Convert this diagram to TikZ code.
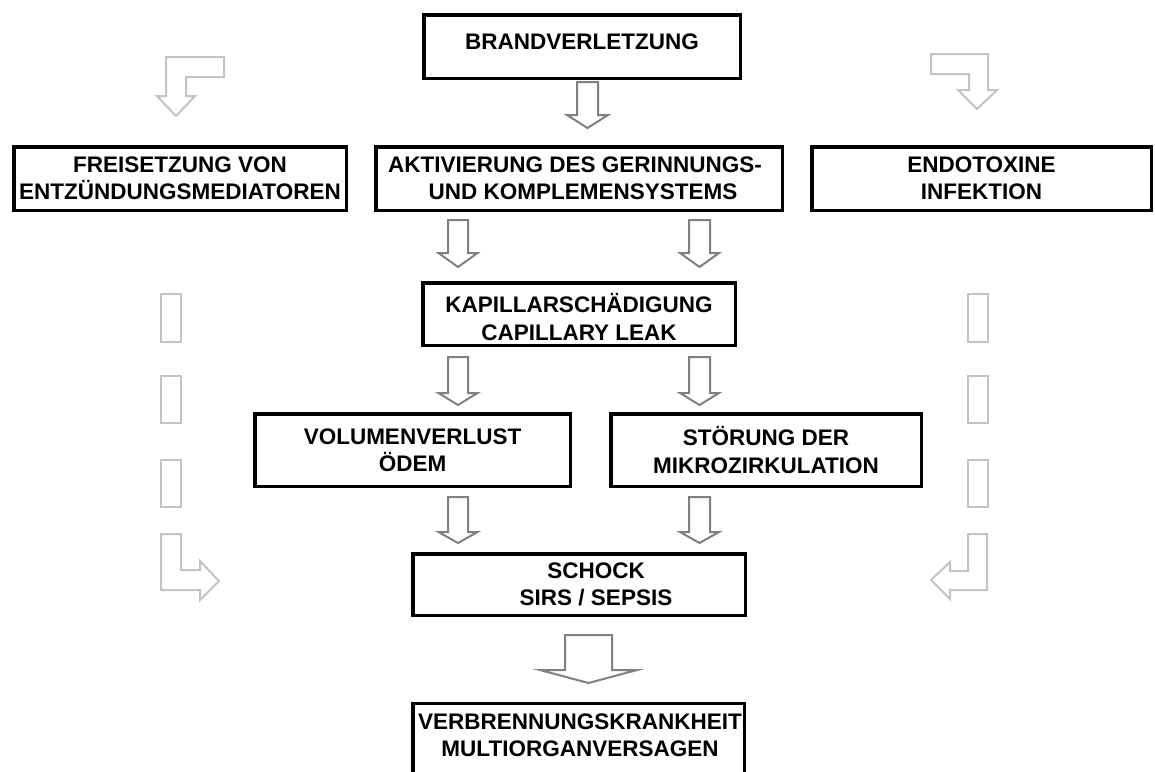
\documentclass[tikz,border=0pt]{standalone}
\usepackage{fontspec}
\setmainfont{Liberation Sans}
\definecolor{arrowgray}{RGB}{128,128,128}
\definecolor{sidegray}{RGB}{196,196,196}
\newcommand\blkarrow[7]{% style, cx, shaft half, head half, top, base, tip
  \draw[#1] ({#2-#3},#5) -- ({#2+#3},#5) -- ({#2+#3},#6) -- ({#2+#4},#6) -- (#2,#7)
     -- ({#2-#4},#6) -- ({#2-#3},#6) -- cycle;}
\tikzset{
  box/.style={draw=black, line width=3.5pt, rectangle, inner sep=0pt, align=center,
    font=\bfseries\fontsize{22.5}{27.5}\selectfont},
  txt/.style={inner sep=0pt, align=center, font=\bfseries\fontsize{22.5}{27.5}\selectfont},
  mainarrow/.style={draw=arrowgray, line width=2pt, fill=white, line join=miter},
  sidearrow/.style={draw=sidegray, line width=2pt, fill=white, line join=miter}
}
\begin{document}
\begin{tikzpicture}[x=1pt,y=-1pt]
\useasboundingbox (0,0) rectangle (1155,771);
\fill[white] (0,0) rectangle (1155,771);
\clip (0,0) rectangle (1155,771);

% boxes
\node[box, minimum width=316.5pt, minimum height=63.5pt] (brand) at (582,46.5)
  {\raisebox{5pt}[\height][\depth]{BRANDVERLETZUNG}};
\node[box, minimum width=332.5pt, minimum height=63.5pt] (frei) at (180,178.5)
  {FREISETZUNG VON\\ENTZÜNDUNGSMEDIATOREN};
\node[box, minimum width=406.5pt, minimum height=63.5pt] (akt) at (579,178.5)
  {AKTIVIERUNG DES GERINNUNGS-\hspace*{8pt}\\\hspace*{8pt}UND KOMPLEMENSYSTEMS};
\node[box, minimum width=339.5pt, minimum height=63.5pt] (endo) at (981.5,178.5)
  {ENDOTOXINE\\INFEKTION};
\node[box, minimum width=312.5pt, minimum height=62.5pt] (kap) at (579,314) {};
\node[txt] (kaptxt) at (579,317) {KAPILLARSCHÄDIGUNG\\CAPILLARY LEAK};
\node[box, minimum width=315.5pt, minimum height=72.5pt] (vol) at (412.5,450)
  {VOLUMENVERLUST\\ÖDEM};
\node[box, minimum width=310.5pt, minimum height=72.5pt] (stoer) at (766,450)
  {STÖRUNG DER\\MIKROZIRKULATION};
\node[box, minimum width=332.5pt, minimum height=61.5pt] (schock) at (579,584.5)
  {\hspace*{34pt}SCHOCK\\\hspace*{34pt}SIRS / SEPSIS};
\node[box, minimum width=331.5pt, minimum height=110pt, anchor=north] (verb) at (578.5,701.75) {};
\node[txt] (verbtxt) at (580,735) {VERBRENNUNGSKRANKHEIT\\MULTIORGANVERSAGEN};

% central block arrows
\blkarrow{mainarrow}{587.5}{10.5}{20.5}{82}{115}{128}
\blkarrow{mainarrow}{458}{10}{19.5}{220}{253}{267}
\blkarrow{mainarrow}{699.5}{10.5}{19.5}{220}{253}{267}
\blkarrow{mainarrow}{458}{10}{19.5}{357}{393}{405}
\blkarrow{mainarrow}{699.5}{10.5}{19.5}{357}{393}{405}
\blkarrow{mainarrow}{458}{10}{19.5}{497}{532}{543}
\blkarrow{mainarrow}{699.5}{10.5}{19.5}{497}{532}{543}
\blkarrow{mainarrow}{588.5}{23.5}{48.5}{635}{670}{683}

% side arrows (light gray)
\draw[sidearrow] (166,57) -- (224,57) -- (224,77) -- (186,77) -- (186,96) -- (195,96)
  -- (176,116) -- (157,96) -- (166,96) -- cycle;
\draw[sidearrow] (931,54) -- (988,54) -- (988,90) -- (997,90) -- (977,109) -- (958,90)
  -- (969,90) -- (969,74) -- (931,74) -- cycle;
\foreach \ya/\yb in {294/342, 376/423, 460/507} {
  \draw[sidearrow] (161,\ya) rectangle (181,\yb);
  \draw[sidearrow] (968,\ya) rectangle (988,\yb);
}
\draw[sidearrow] (161,534) -- (181,534) -- (181,570) -- (200,570) -- (200,561) -- (219,581)
  -- (200,600) -- (200,590) -- (161,590) -- cycle;
\draw[sidearrow] (968,534) -- (987,534) -- (987,590) -- (950,590) -- (950,599) -- (931,580)
  -- (950,562) -- (950,571) -- (968,571) -- cycle;
\end{tikzpicture}
\end{document}
